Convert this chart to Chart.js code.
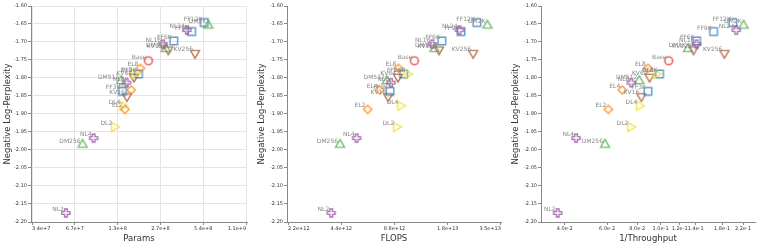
<!DOCTYPE html>
<html>
<head>
<meta charset="utf-8">
<script src="https://cdn.jsdelivr.net/npm/chart.js@4.4.1/dist/chart.umd.min.js"></script>
<style>
  html, body { margin: 0; padding: 0; background: #fff; }
  canvas { position: absolute; top: 0; }
</style>
</head>
<body>
<canvas id="cParams" width="254" height="246" style="left:0"></canvas>
<canvas id="cFlops" width="254" height="246" style="left:254px"></canvas>
<canvas id="cThru" width="253" height="246" style="left:508px"></canvas>
<script>
// model variants, one entry per point
const names = ["Base", "EL2", "EL4", "EL8", "DL2", "DL4", "DL8",
  "NL2", "NL4", "NL8", "NL16", "NL24", "DM256", "DM512", "DM1K", "DM2K",
  "FF2K", "FF3K", "FF6K", "FF9K", "FF12K", "KV16", "KV64", "KV128", "KV256"];

const logPpl = [-1.752, -1.887, -1.833, -1.773, -1.936, -1.877, -1.789,
  -2.175, -1.967, -1.813, -1.706, -1.667, -1.985, -1.808, -1.719, -1.654,
  -1.789, -1.837, -1.697, -1.671, -1.646, -1.851, -1.797, -1.721, -1.731];

const params = [2.21e8, 1.51e8, 1.67e8, 1.94e8, 1.27e8, 1.45e8, 1.76e8,
  5.8e7, 9.1e7, 1.55e8, 2.80e8, 4.12e8, 7.6e7, 1.42e8, 2.92e8, 5.83e8,
  1.88e8, 1.45e8, 3.33e8, 4.45e8, 5.45e8, 1.56e8, 1.75e8, 3.05e8, 4.7e8];

const flops = [1.14e13, 6.2e12, 7.25e12, 9.26e12, 9.0e12, 9.5e12, 1.04e13,
  3.86e12, 5.37e12, 8.4e12, 1.44e13, 2.05e13, 4.33e12, 7.96e12, 1.48e13, 2.95e13,
  9.9e12, 8.3e12, 1.63e13, 2.09e13, 2.57e13, 8.1e12, 9.2e12, 1.57e13, 2.45e13];

const invThroughput = [0.108, 0.0607, 0.0693, 0.0886, 0.0749, 0.0816, 0.0956,
  0.0374, 0.0446, 0.0756, 0.141, 0.206, 0.0588, 0.0816, 0.130, 0.221,
  0.099, 0.0886, 0.141, 0.166, 0.1995, 0.0832, 0.090, 0.137, 0.184];

const yTicks = [-2.2, -2.15, -2.1, -2.05, -2.0, -1.95, -1.9, -1.85, -1.8, -1.75, -1.7, -1.65, -1.6];
const paramTicks = [3.355e7, 6.711e7, 1.342e8, 2.684e8, 5.369e8, 1.074e9];
const flopsTicks = [2.199e12, 4.398e12, 8.796e12, 1.759e13, 3.518e13];
const thruTicks = [0.04, 0.06, 0.08, 0.10, 0.12, 0.14, 0.18, 0.22];

const FONT = "DejaVu Sans";

// marker look for each family
const families = {
  Base: { shape: "circle", color: "#e41a1c" },
  EL: { shape: "diamond", color: "#ff7f00" },
  DL: { shape: "right", color: "#eedd22" },
  NL: { shape: "cross", color: "#984ea3" },
  DM: { shape: "up", color: "#4daf4a" },
  FF: { shape: "square", color: "#377eb8" },
  KV: { shape: "down", color: "#a65628" }
};

function makeSymbol(shape, color) {
  const c = document.createElement("canvas");
  c.width = 14; c.height = 14;
  const g = c.getContext("2d");
  g.translate(7, 7);
  g.strokeStyle = color;
  g.globalAlpha = 0.8;
  g.lineWidth = 1.4;
  const pts = {
    diamond: [[0, -4.1], [4.2, 0], [0, 4.1], [-4.2, 0]],
    up: [[0, -5.2], [4.5, 2.6], [-4.5, 2.6]],
    down: [[-4.5, -2.6], [4.5, -2.6], [0, 5.2]],
    right: [[-2.6, -4.5], [5.2, 0], [-2.6, 4.5]],
    cross: [[-4, -1.35], [-1.35, -1.35], [-1.35, -4], [1.35, -4], [1.35, -1.35], [4, -1.35],
            [4, 1.35], [1.35, 1.35], [1.35, 4], [-1.35, 4], [-1.35, 1.35], [-4, 1.35]]
  };
  g.beginPath();
  if (shape === "circle") g.arc(0, 0, 3.9, 0, Math.PI * 2);
  else if (shape === "square") g.rect(-3.8, -3.8, 7.6, 7.6);
  else {
    pts[shape].forEach((p, i) => i ? g.lineTo(p[0], p[1]) : g.moveTo(p[0], p[1]));
    g.closePath();
  }
  g.stroke();
  return c;
}

const symbols = {};
Object.keys(families).forEach(k => { symbols[k] = makeSymbol(families[k].shape, families[k].color); });

function buildDatasets(xs) {
  const sets = [];
  names.forEach((n, i) => {
    const fam = n.replace(/\d+K?$/, "");
    let ds = sets.find(d => d.label === fam);
    if (!ds) {
      ds = { label: fam, data: [], pointStyle: symbols[fam], pointRadius: 5, showLine: false };
      sets.push(ds);
    }
    ds.data.push({ x: xs[i], y: logPpl[i], name: n });
  });
  return sets;
}

const pointLabels = {
  id: "pointLabels",
  afterDatasetsDraw(chart) {
    const ctx = chart.ctx;
    ctx.save();
    ctx.font = "6px '" + FONT + "'";
    ctx.fillStyle = "#888";
    ctx.textAlign = "right";
    ctx.textBaseline = "alphabetic";
    chart.data.datasets.forEach((ds, i) => {
      chart.getDatasetMeta(i).data.forEach((pt, j) => {
        ctx.fillText(ds.data[j].name, pt.x - 2, pt.y - 2);
      });
    });
    ctx.restore();
  }
};

function fixBox(w, h) {
  return s => {
    if (w != null) s.width = w;
    if (h != null) s.height = h;
    s.paddingLeft = 0; s.paddingRight = 0; s.paddingTop = 0; s.paddingBottom = 0;
  };
}

function drawPanel(id, xs, xTitle, xMin, xMax, xTicks, withGrid, yWidth, padRight, align) {
  const tickFont = { family: FONT, size: 5 };
  const titleFont = { family: FONT, size: 8.5 };
  new Chart(document.getElementById(id), {
    type: "scatter",
    data: { datasets: buildDatasets(xs) },
    options: {
      responsive: false,
      animation: false,
      events: [],
      layout: { padding: { left: 0, top: 6, right: padRight, bottom: 0 } },
      plugins: { legend: { display: false }, tooltip: { enabled: false } },
      scales: {
        x: {
          type: "logarithmic",
          min: xMin, max: xMax,
          afterBuildTicks: s => { s.ticks = xTicks.map(v => ({ value: v })); },
          ticks: {
            callback: v => Number(v).toExponential(1),
            autoSkip: false, maxRotation: 0, align: align,
            font: tickFont, color: "#333", padding: 1
          },
          grid: { color: "#e4e4e4", drawOnChartArea: withGrid, tickLength: 3, tickColor: "#888" },
          border: { color: "#888" },
          title: { display: true, text: xTitle, font: titleFont, color: "#333", padding: { top: 0, bottom: 2.5 } },
          afterFit: fixBox(null, 24)
        },
        y: {
          min: -2.2, max: -1.6,
          afterBuildTicks: s => { s.ticks = yTicks.map(v => ({ value: v })); },
          ticks: {
            callback: v => Number(v).toFixed(2),
            font: tickFont, color: "#333", padding: 1
          },
          grid: { color: "#e4e4e4", drawOnChartArea: withGrid, tickLength: 3, tickColor: "#888" },
          border: { color: "#888" },
          title: { display: true, text: "Negative Log-Perplexity", font: titleFont, color: "#333", padding: { top: 3, bottom: 0 } },
          afterFit: fixBox(yWidth, null)
        }
      }
    },
    plugins: [pointLabels]
  });
}

drawPanel("cParams", params, "Params", 3.3e7, 1.09e9, paramTicks, true, 31, 7, "inner");
drawPanel("cFlops", flops, "FLOPS", 2.17e12, 3.52e13, flopsTicks, false, 33, 7, "inner");
drawPanel("cThru", invThroughput, "1/Throughput", 0.0319, 0.2465, thruTicks, false, 33, 4, "center");
</script>
</body>
</html>
